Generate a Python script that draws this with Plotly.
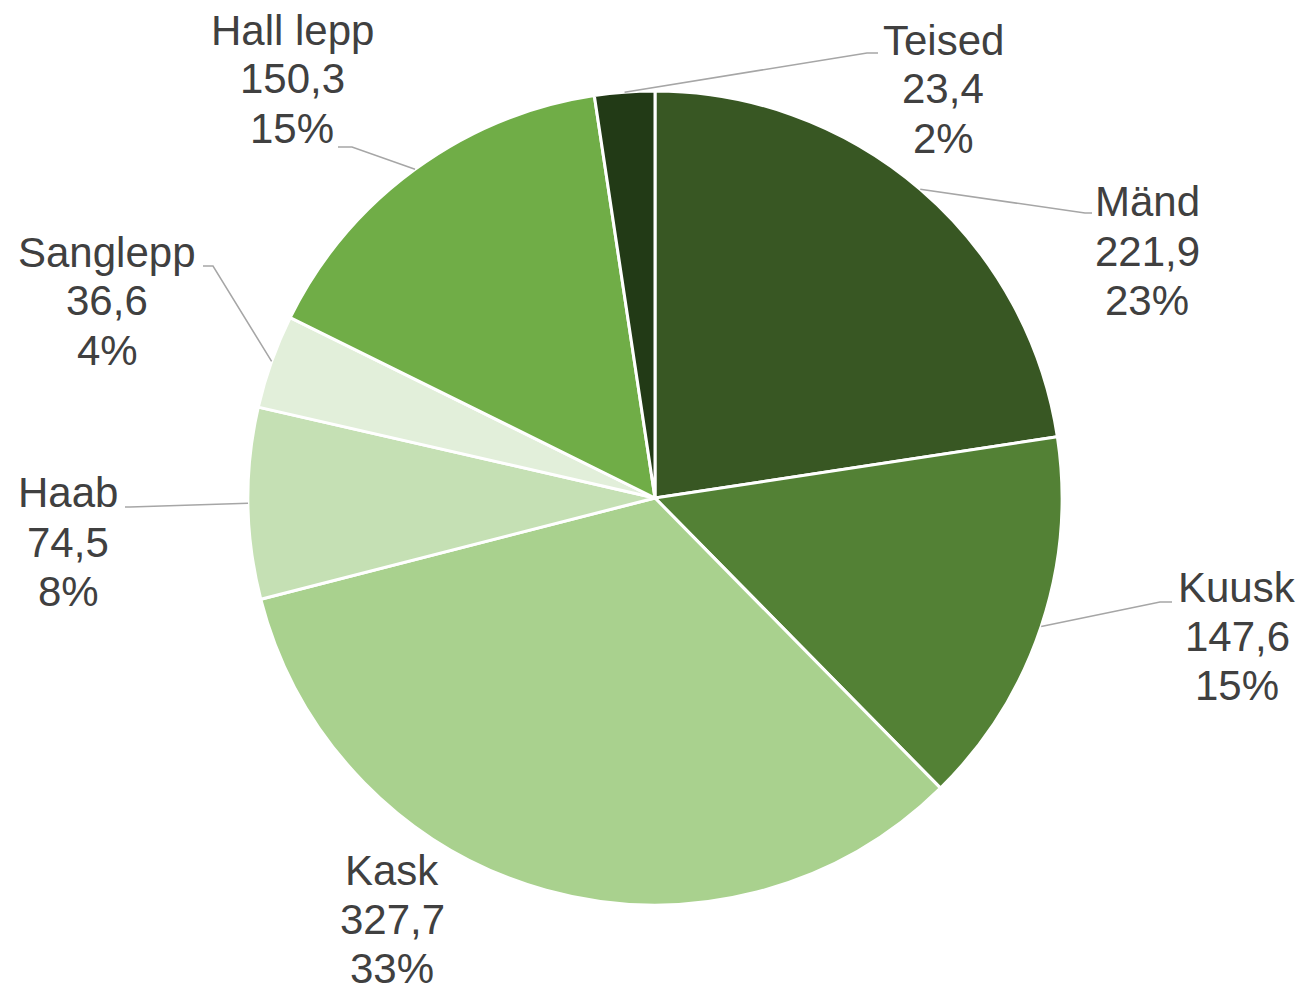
import math
import plotly.graph_objects as go

# ---- data ----
species = ["Mänd", "Kuusk", "Kask", "Haab", "Sanglepp", "Hall lepp", "Teised"]
volumes = [221.9, 147.6, 327.7, 74.5, 36.6, 150.3, 23.4]
colors = ["#385723", "#538135", "#A9D18E", "#C5E0B4", "#E2EFDA", "#70AD47", "#223A16"]

# ---- layout (pixels in the page) ----
OFF = 8                      # default body margin of the page
W, H = 1304 - OFF, 984 - OFF
CX, CY, R = 655, 498, 407
# label block centre (x, y of middle line) and leader elbow/end points (None = no leader)
label_pos = [(1147, 251), (1237, 636), (392, 919), (68, 542), (107, 301), (292, 79), (943, 89)]
leader_pts = [
    [(1085, 213), (1092, 213)],
    [(1160, 602), (1172, 602)],
    None,
    [(130, 507), (125, 507)],
    [(213, 266), (203, 266)],
    [(352, 147), (338, 147)],
    [(867, 53), (878, 53)],
]
LINE_GAP = 49

def px(x):
    return (x - OFF) / W

def py(y):
    return 1 - (y - OFF) / H

fig = go.Figure(go.Pie(
    labels=species,
    values=volumes,
    sort=False,
    direction="clockwise",
    rotation=0,
    marker=dict(colors=colors, line=dict(color="white", width=3)),
    textinfo="none",
    hoverinfo="label+value+percent",
    domain=dict(x=[px(CX - R), px(CX + R)], y=[py(CY + R), py(CY - R)]),
    showlegend=False,
))

total = sum(volumes)
annotations = []
shapes = []
cum = 0.0
for name, v, (lx, ly), lead in zip(species, volumes, label_pos, leader_pts):
    frac = v / total
    mid = (cum + frac / 2) * 2 * math.pi
    cum += frac
    pct = f"{round(frac * 100):d}%"
    val = f"{v:.1f}".replace(".", ",")
    for i, t in enumerate([name, val, pct]):
        annotations.append(dict(
            x=px(lx), y=py(ly + (i - 1) * LINE_GAP), xref="paper", yref="paper",
            text=t, showarrow=False, xanchor="center", yanchor="middle",
            font=dict(family="Liberation Sans, Arial, sans-serif", size=42, color="#404040"),
        ))
    if lead:
        sx = CX + R * math.sin(mid)
        sy = CY - R * math.cos(mid)
        pts = [(sx, sy)] + lead
        path = "M " + " L ".join(f"{px(a):.5f},{py(b):.5f}" for a, b in pts)
        shapes.append(dict(type="path", xref="paper", yref="paper", path=path,
                           line=dict(color="#A6A6A6", width=1.5)))

fig.update_layout(
    width=W, height=H,
    margin=dict(l=0, r=0, t=0, b=0),
    paper_bgcolor="white", plot_bgcolor="white",
    annotations=annotations, shapes=shapes,
)
fig.write_html("out.html")
